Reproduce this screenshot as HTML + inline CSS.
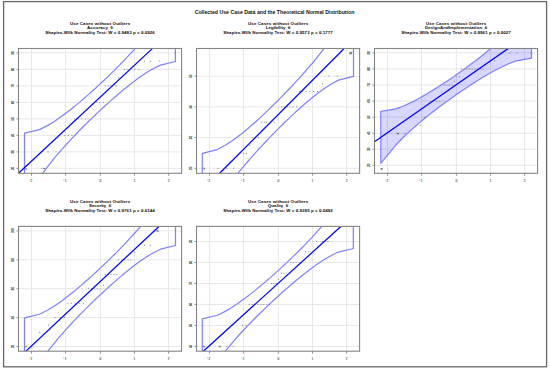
<!DOCTYPE html>
<html><head><meta charset="utf-8"><title>Collected Use Case Data and the Theoretical Normal Distribution</title>
<style>html,body{margin:0;padding:0;background:#fff;}body{width:550px;height:370px;overflow:hidden;font-family:"Liberation Sans",sans-serif;}svg{display:block}</style>
</head><body>
<svg width="550" height="370" viewBox="0 0 550 370" font-family="Liberation Sans, sans-serif"><rect x="3.6" y="1.6" width="543" height="365.2" fill="none" stroke="#686868" stroke-width="1.3"/>
<text x="274.5" y="13.6" text-anchor="middle" font-size="5.2" font-weight="bold" fill="#0a140a">Collected Use Case Data and the Theoretical Normal Distribution</text>
<g><text transform="translate(100.05,24.5) scale(1.0,1)" x="-30.05" y="0" textLength="60.1" lengthAdjust="spacing" font-size="4.4" font-weight="bold" fill="#111" stroke="#111" stroke-width="0.04">Use Cases without Outliers</text><text transform="translate(100.05,29.25) scale(1.0,1)" x="-13" y="0" textLength="26" lengthAdjust="spacing" font-size="4.4" font-weight="bold" fill="#111" stroke="#111" stroke-width="0.04">Accuracy_6</text><text transform="translate(100.05,33.6) scale(1.0,1)" x="-54.7" y="0" textLength="109.4" lengthAdjust="spacing" font-size="4.4" font-weight="bold" fill="#111" stroke="#111" stroke-width="0.04">Shapiro-Wilk Normality Test: W = 0.9483 p = 0.0926</text><clipPath id="c00"><rect x="18.5" y="48.5" width="163.1" height="124.8"/></clipPath><path d="M31.5 48.5V173.3M65.55 48.5V173.3M100.4 48.5V173.3M134.5 48.5V173.3M168.6 48.5V173.3M18.5 52.9H181.6M18.5 69.4H181.6M18.5 85.9H181.6M18.5 102.4H181.6M18.5 118.9H181.6M18.5 135.4H181.6M18.5 151.9H181.6M18.5 168.4H181.6" stroke="#e6e6e6" stroke-width="0.95" fill="none"/><polygon points="24.5,133.16 39.55,129.59 47.87,125.38 53.94,121.67 58.84,118.35 63.03,115.35 66.74,112.57 70.1,109.96 73.19,107.49 76.08,105.14 78.82,102.86 81.42,100.66 83.93,98.52 86.35,96.41 88.71,94.34 91.01,92.29 93.28,90.25 95.52,88.21 97.74,86.18 99.95,84.13 102.16,82.06 104.38,79.96 106.62,77.83 108.89,75.64 111.19,73.4 113.55,71.08 115.97,68.68 118.48,66.16 121.08,63.5 123.82,60.68 126.71,57.65 129.8,54.36 133.16,50.71 136.87,46.59 141.06,41.8 145.96,35.97 152.03,28.38 160.35,17.08 175.4,-7.36 175.4,61.54 160.35,65.12 152.03,69.32 145.96,73.04 141.06,76.35 136.87,79.36 133.16,82.14 129.8,84.74 126.71,87.21 123.82,89.57 121.08,91.84 118.48,94.04 115.97,96.19 113.55,98.29 111.19,100.36 108.89,102.41 106.62,104.45 104.38,106.49 102.16,108.52 99.95,110.57 97.74,112.64 95.52,114.74 93.28,116.87 91.01,119.06 88.71,121.3 86.35,123.62 83.93,126.02 81.42,128.54 78.82,131.2 76.08,134.02 73.19,137.05 70.1,140.34 66.74,143.99 63.03,148.11 58.84,152.91 53.94,158.73 47.87,166.32 39.55,177.62 24.5,202.06" fill="none" stroke="#8080ff" stroke-width="1.2" stroke-linejoin="round" clip-path="url(#c00)"/><rect x="25.5" y="168.3" width="1.4" height="1.4" fill="#6e6e6e" opacity="0.85"/><rect x="43.3" y="167.85" width="1.8" height="1.3" fill="#6e6e6e" opacity="0.85"/><path d="M24.3 168.4h1M41.2 168.4h1M43 168.4h1M47.5 151.9h1M55.5 151.9h1M64.4 135.4h1M68 135.4h1M71.5 135.4h1M74.2 118.9h1M77.8 118.9h1M81.3 118.9h1M84.9 118.9h1M87.5 118.9h1M96.4 102.4h1M99.2 102.4h1M103 102.4h1M104.9 85.9h1M107.7 85.9h1M110.5 85.9h1M113.4 85.9h1M115.7 85.9h1M118.1 77.6h1M123.8 69.4h1M126.6 69.4h1M134.2 69.4h1M138.4 69.4h1M144 61.1h1M149.9 61.1h1M158.8 61.1h1M174.8 52.9h1" stroke="#7a7a7a" stroke-width="0.9" fill="none" clip-path="url(#c00)"/><line x1="18.5" y1="173.2" x2="152.3" y2="48.6" stroke="#0000ff" stroke-width="1.25" clip-path="url(#c00)"/><rect x="18.5" y="48.5" width="163.1" height="124.8" fill="none" stroke="#858585" stroke-width="1.1"/><path d="M31.5 173.3v2.4M65.55 173.3v2.4M100.4 173.3v2.4M134.5 173.3v2.4M168.6 173.3v2.4M18.5 52.9h-2M18.5 69.4h-2M18.5 85.9h-2M18.5 102.4h-2M18.5 118.9h-2M18.5 135.4h-2M18.5 151.9h-2M18.5 168.4h-2" stroke="#858585" stroke-width="0.9" fill="none"/><text transform="translate(31.5,181.7) scale(0.75,1)" text-anchor="middle" font-size="4.2" fill="#4a4a4a" stroke="#4a4a4a" stroke-width="0.12">2</text><path d="M29 180.2h1.2" stroke="#8a8a8a" stroke-width="0.55"/><text transform="translate(65.55,181.7) scale(0.75,1)" text-anchor="middle" font-size="4.2" fill="#4a4a4a" stroke="#4a4a4a" stroke-width="0.12">1</text><path d="M63.05 180.2h1.2" stroke="#8a8a8a" stroke-width="0.55"/><text transform="translate(100.4,181.7) scale(0.75,1)" text-anchor="middle" font-size="4.2" fill="#4a4a4a" stroke="#4a4a4a" stroke-width="0.12">0</text><text transform="translate(134.5,181.7) scale(0.75,1)" text-anchor="middle" font-size="4.2" fill="#4a4a4a" stroke="#4a4a4a" stroke-width="0.12">1</text><text transform="translate(168.6,181.7) scale(0.75,1)" text-anchor="middle" font-size="4.2" fill="#4a4a4a" stroke="#4a4a4a" stroke-width="0.12">2</text><text transform="translate(13.9,52.9) rotate(-90)" text-anchor="middle" font-size="2.9" fill="#4a4a4a" stroke="#4a4a4a" stroke-width="0.15">90</text><text transform="translate(13.9,69.4) rotate(-90)" text-anchor="middle" font-size="2.9" fill="#4a4a4a" stroke="#4a4a4a" stroke-width="0.15">80</text><text transform="translate(13.9,85.9) rotate(-90)" text-anchor="middle" font-size="2.9" fill="#4a4a4a" stroke="#4a4a4a" stroke-width="0.15">70</text><text transform="translate(13.9,102.4) rotate(-90)" text-anchor="middle" font-size="2.9" fill="#4a4a4a" stroke="#4a4a4a" stroke-width="0.15">60</text><text transform="translate(13.9,118.9) rotate(-90)" text-anchor="middle" font-size="2.9" fill="#4a4a4a" stroke="#4a4a4a" stroke-width="0.15">50</text><text transform="translate(13.9,135.4) rotate(-90)" text-anchor="middle" font-size="2.9" fill="#4a4a4a" stroke="#4a4a4a" stroke-width="0.15">40</text><text transform="translate(13.9,151.9) rotate(-90)" text-anchor="middle" font-size="2.9" fill="#4a4a4a" stroke="#4a4a4a" stroke-width="0.15">30</text><text transform="translate(13.9,168.4) rotate(-90)" text-anchor="middle" font-size="2.9" fill="#4a4a4a" stroke="#4a4a4a" stroke-width="0.15">20</text></g>
<g><text transform="translate(278.05,24.5) scale(1.0,1)" x="-30.05" y="0" textLength="60.1" lengthAdjust="spacing" font-size="4.4" font-weight="bold" fill="#111" stroke="#111" stroke-width="0.04">Use Cases without Outliers</text><text transform="translate(278.05,29.25) scale(1.0,1)" x="-12.4" y="0" textLength="24.8" lengthAdjust="spacing" font-size="4.4" font-weight="bold" fill="#111" stroke="#111" stroke-width="0.04">Legibility_6</text><text transform="translate(278.05,33.6) scale(1.0,1)" x="-54.7" y="0" textLength="109.4" lengthAdjust="spacing" font-size="4.4" font-weight="bold" fill="#111" stroke="#111" stroke-width="0.04">Shapiro-Wilk Normality Test: W = 0.9573 p = 0.1777</text><clipPath id="c10"><rect x="196.5" y="48.5" width="163.1" height="124.8"/></clipPath><path d="M209.5 48.5V173.3M243.55 48.5V173.3M278.4 48.5V173.3M312.5 48.5V173.3M346.6 48.5V173.3M196.5 76.2H359.6M196.5 106.9H359.6M196.5 137.6H359.6M196.5 168.3H359.6" stroke="#e6e6e6" stroke-width="0.95" fill="none"/><polygon points="202.3,153.42 217.38,149.58 225.72,145.05 231.8,141.05 236.71,137.48 240.91,134.24 244.62,131.24 247.99,128.43 251.09,125.77 253.99,123.23 256.72,120.78 259.34,118.4 261.85,116.09 264.27,113.82 266.64,111.58 268.95,109.37 271.22,107.17 273.46,104.98 275.69,102.78 277.9,100.57 280.11,98.34 282.34,96.08 284.58,93.78 286.85,91.42 289.16,89 291.53,86.5 293.95,83.9 296.46,81.19 299.08,78.33 301.81,75.28 304.71,72.01 307.81,68.46 311.18,64.52 314.89,60.08 319.09,54.91 324,48.62 330.08,40.43 338.42,28.24 353.5,1.85 353.5,76.3 338.42,80.14 330.08,84.67 324,88.67 319.09,92.24 314.89,95.48 311.18,98.48 307.81,101.29 304.71,103.95 301.81,106.49 299.08,108.94 296.46,111.31 293.95,113.63 291.53,115.9 289.16,118.14 286.85,120.35 284.58,122.55 282.34,124.74 280.11,126.94 277.9,129.15 275.69,131.38 273.46,133.64 271.22,135.94 268.95,138.3 266.64,140.72 264.27,143.22 261.85,145.81 259.34,148.53 256.72,151.39 253.99,154.44 251.09,157.7 247.99,161.26 244.62,165.2 240.91,169.64 236.71,174.81 231.8,181.1 225.72,189.29 217.38,201.48 202.3,227.87" fill="none" stroke="#8080ff" stroke-width="1.2" stroke-linejoin="round" clip-path="url(#c10)"/><rect x="203.7" y="167.8" width="1.4" height="1.6" fill="#6e6e6e" opacity="0.85"/><rect x="349.3" y="52" width="2.6" height="2.4" fill="#6e6e6e" opacity="0.85"/><path d="M203.5 168.3h1M217.5 168.3h1M226.4 168.3h1M233.1 168.3h1M239.2 153.3h1M243.3 153.3h1M246 153.3h1M249.5 145.3h1M252.2 137.6h1M254.9 137.6h1M258.1 137.6h1M261.1 122.3h1M263.8 122.3h1M265.9 122.3h1M270 122.3h1M273.6 122.3h1M281 106.9h1M283.8 106.9h1M286.7 106.9h1M289.5 106.9h1M292.3 106.9h1M296.1 106.9h1M299 91.5h1M301.8 91.5h1M305.6 91.5h1M309.4 91.5h1M313.1 91.5h1M316.9 91.5h1M322 83.8h1M328.3 76.2h1M336.8 76.2h1M351.5 52h1" stroke="#7a7a7a" stroke-width="0.9" fill="none" clip-path="url(#c10)"/><line x1="219.4" y1="173.5" x2="343.9" y2="48.7" stroke="#0000ff" stroke-width="1.25" clip-path="url(#c10)"/><rect x="196.5" y="48.5" width="163.1" height="124.8" fill="none" stroke="#858585" stroke-width="1.1"/><path d="M209.5 173.3v2.4M243.55 173.3v2.4M278.4 173.3v2.4M312.5 173.3v2.4M346.6 173.3v2.4M196.5 76.2h-2M196.5 106.9h-2M196.5 137.6h-2M196.5 168.3h-2" stroke="#858585" stroke-width="0.9" fill="none"/><text transform="translate(209.5,181.7) scale(0.75,1)" text-anchor="middle" font-size="4.2" fill="#4a4a4a" stroke="#4a4a4a" stroke-width="0.12">2</text><path d="M207 180.2h1.2" stroke="#8a8a8a" stroke-width="0.55"/><text transform="translate(243.55,181.7) scale(0.75,1)" text-anchor="middle" font-size="4.2" fill="#4a4a4a" stroke="#4a4a4a" stroke-width="0.12">1</text><path d="M241.05 180.2h1.2" stroke="#8a8a8a" stroke-width="0.55"/><text transform="translate(278.4,181.7) scale(0.75,1)" text-anchor="middle" font-size="4.2" fill="#4a4a4a" stroke="#4a4a4a" stroke-width="0.12">0</text><text transform="translate(312.5,181.7) scale(0.75,1)" text-anchor="middle" font-size="4.2" fill="#4a4a4a" stroke="#4a4a4a" stroke-width="0.12">1</text><text transform="translate(346.6,181.7) scale(0.75,1)" text-anchor="middle" font-size="4.2" fill="#4a4a4a" stroke="#4a4a4a" stroke-width="0.12">2</text><text transform="translate(191.9,76.2) rotate(-90)" text-anchor="middle" font-size="2.9" fill="#4a4a4a" stroke="#4a4a4a" stroke-width="0.15">50</text><text transform="translate(191.9,106.9) rotate(-90)" text-anchor="middle" font-size="2.9" fill="#4a4a4a" stroke="#4a4a4a" stroke-width="0.15">40</text><text transform="translate(191.9,137.6) rotate(-90)" text-anchor="middle" font-size="2.9" fill="#4a4a4a" stroke="#4a4a4a" stroke-width="0.15">30</text><text transform="translate(191.9,168.3) rotate(-90)" text-anchor="middle" font-size="2.9" fill="#4a4a4a" stroke="#4a4a4a" stroke-width="0.15">20</text></g>
<g><text transform="translate(456.05,24.5) scale(1.0,1)" x="-30.05" y="0" textLength="60.1" lengthAdjust="spacing" font-size="4.4" font-weight="bold" fill="#111" stroke="#111" stroke-width="0.04">Use Cases without Outliers</text><text transform="translate(456.05,29.25) scale(1.0,1)" x="-31.05" y="0" textLength="62.1" lengthAdjust="spacing" font-size="4.4" font-weight="bold" fill="#111" stroke="#111" stroke-width="0.04">DesignAndImplementation_6</text><text transform="translate(456.05,33.6) scale(1.0,1)" x="-54.7" y="0" textLength="109.4" lengthAdjust="spacing" font-size="4.4" font-weight="bold" fill="#111" stroke="#111" stroke-width="0.04">Shapiro-Wilk Normality Test: W = 0.8961 p = 0.0027</text><clipPath id="c20"><rect x="374.5" y="48.5" width="163.1" height="124.8"/></clipPath><path d="M387.5 48.5V173.3M421.55 48.5V173.3M456.4 48.5V173.3M490.5 48.5V173.3M524.6 48.5V173.3M374.5 52.9H537.6M374.5 68.96H537.6M374.5 85.02H537.6M374.5 101.08H537.6M374.5 117.14H537.6M374.5 133.2H537.6M374.5 149.26H537.6M374.5 165.32H537.6" stroke="#e6e6e6" stroke-width="0.95" fill="none"/><polygon points="380.8,111.44 395.83,108.82 404.14,105.69 410.2,102.92 415.1,100.44 419.28,98.2 422.98,96.12 426.34,94.17 429.43,92.33 432.31,90.56 435.04,88.87 437.65,87.22 440.15,85.61 442.57,84.04 444.92,82.49 447.23,80.95 449.49,79.43 451.73,77.9 453.94,76.38 456.15,74.85 458.36,73.3 460.57,71.73 462.81,70.13 465.07,68.49 467.38,66.81 469.73,65.08 472.15,63.28 474.65,61.39 477.26,59.4 479.99,57.29 482.87,55.02 485.96,52.55 489.32,49.82 493.02,46.73 497.2,43.14 502.1,38.77 508.16,33.08 516.47,24.61 531.5,6.26 531.5,58.18 516.47,60.8 508.16,63.93 502.1,66.7 497.2,69.17 493.02,71.42 489.32,73.5 485.96,75.45 482.87,77.29 479.99,79.05 477.26,80.75 474.65,82.4 472.15,84.01 469.73,85.58 467.38,87.13 465.07,88.67 462.81,90.19 460.57,91.72 458.36,93.24 456.15,94.77 453.94,96.32 451.73,97.89 449.49,99.49 447.23,101.12 444.92,102.8 442.57,104.54 440.15,106.34 437.65,108.23 435.04,110.22 432.31,112.33 429.43,114.6 426.34,117.07 422.98,119.8 419.28,122.89 415.1,126.48 410.2,130.85 404.14,136.54 395.83,145.01 380.8,163.36" fill="#0000ff" fill-opacity="0.155" stroke="none" clip-path="url(#c20)"/><polygon points="380.8,111.44 395.83,108.82 404.14,105.69 410.2,102.92 415.1,100.44 419.28,98.2 422.98,96.12 426.34,94.17 429.43,92.33 432.31,90.56 435.04,88.87 437.65,87.22 440.15,85.61 442.57,84.04 444.92,82.49 447.23,80.95 449.49,79.43 451.73,77.9 453.94,76.38 456.15,74.85 458.36,73.3 460.57,71.73 462.81,70.13 465.07,68.49 467.38,66.81 469.73,65.08 472.15,63.28 474.65,61.39 477.26,59.4 479.99,57.29 482.87,55.02 485.96,52.55 489.32,49.82 493.02,46.73 497.2,43.14 502.1,38.77 508.16,33.08 516.47,24.61 531.5,6.26 531.5,58.18 516.47,60.8 508.16,63.93 502.1,66.7 497.2,69.17 493.02,71.42 489.32,73.5 485.96,75.45 482.87,77.29 479.99,79.05 477.26,80.75 474.65,82.4 472.15,84.01 469.73,85.58 467.38,87.13 465.07,88.67 462.81,90.19 460.57,91.72 458.36,93.24 456.15,94.77 453.94,96.32 451.73,97.89 449.49,99.49 447.23,101.12 444.92,102.8 442.57,104.54 440.15,106.34 437.65,108.23 435.04,110.22 432.31,112.33 429.43,114.6 426.34,117.07 422.98,119.8 419.28,122.89 415.1,126.48 410.2,130.85 404.14,136.54 395.83,145.01 380.8,163.36" fill="none" stroke="#8080ff" stroke-width="1.2" stroke-linejoin="round" clip-path="url(#c20)"/><rect x="380.6" y="168.15" width="2.4" height="1.5" fill="#6e6e6e" opacity="0.85"/><rect x="396.7" y="132.85" width="2.4" height="1.5" fill="#6e6e6e" opacity="0.85"/><path d="M380.8 168.8h1M397.2 133.4h1M404.4 133.4h1M410.6 133.4h1M419.8 125.5h1M423.9 117.5h1M424.9 117.5h1M430 101.6h1M436.2 101.6h1M439.3 101.6h1M441.3 92.2h1M444 85.1h1M446.5 85.1h1M448.9 85.1h1M451.6 85.1h1M453.7 81.3h1M455.7 76.8h1M458.8 76.8h1M460.9 69h1M463.6 69h1M466.3 69h1M469 69h1M471.7 69h1M474.4 69h1M477.1 69h1M479.8 69h1M482.5 69h1M494.2 60.7h1M509.5 53h1M516.5 53h1M530.5 53h1" stroke="#7a7a7a" stroke-width="0.9" fill="none" clip-path="url(#c20)"/><line x1="374.5" y1="141.8" x2="508.6" y2="48.2" stroke="#0000ff" stroke-width="1.25" clip-path="url(#c20)"/><rect x="374.5" y="48.5" width="163.1" height="124.8" fill="none" stroke="#858585" stroke-width="1.1"/><path d="M387.5 173.3v2.4M421.55 173.3v2.4M456.4 173.3v2.4M490.5 173.3v2.4M524.6 173.3v2.4M374.5 52.9h-2M374.5 68.96h-2M374.5 85.02h-2M374.5 101.08h-2M374.5 117.14h-2M374.5 133.2h-2M374.5 149.26h-2M374.5 165.32h-2" stroke="#858585" stroke-width="0.9" fill="none"/><text transform="translate(387.5,181.7) scale(0.75,1)" text-anchor="middle" font-size="4.2" fill="#4a4a4a" stroke="#4a4a4a" stroke-width="0.12">2</text><path d="M385 180.2h1.2" stroke="#8a8a8a" stroke-width="0.55"/><text transform="translate(421.55,181.7) scale(0.75,1)" text-anchor="middle" font-size="4.2" fill="#4a4a4a" stroke="#4a4a4a" stroke-width="0.12">1</text><path d="M419.05 180.2h1.2" stroke="#8a8a8a" stroke-width="0.55"/><text transform="translate(456.4,181.7) scale(0.75,1)" text-anchor="middle" font-size="4.2" fill="#4a4a4a" stroke="#4a4a4a" stroke-width="0.12">0</text><text transform="translate(490.5,181.7) scale(0.75,1)" text-anchor="middle" font-size="4.2" fill="#4a4a4a" stroke="#4a4a4a" stroke-width="0.12">1</text><text transform="translate(524.6,181.7) scale(0.75,1)" text-anchor="middle" font-size="4.2" fill="#4a4a4a" stroke="#4a4a4a" stroke-width="0.12">2</text><text transform="translate(369.9,52.9) rotate(-90)" text-anchor="middle" font-size="2.9" fill="#4a4a4a" stroke="#4a4a4a" stroke-width="0.15">90</text><text transform="translate(369.9,68.96) rotate(-90)" text-anchor="middle" font-size="2.9" fill="#4a4a4a" stroke="#4a4a4a" stroke-width="0.15">80</text><text transform="translate(369.9,85.02) rotate(-90)" text-anchor="middle" font-size="2.9" fill="#4a4a4a" stroke="#4a4a4a" stroke-width="0.15">70</text><text transform="translate(369.9,101.08) rotate(-90)" text-anchor="middle" font-size="2.9" fill="#4a4a4a" stroke="#4a4a4a" stroke-width="0.15">60</text><text transform="translate(369.9,117.14) rotate(-90)" text-anchor="middle" font-size="2.9" fill="#4a4a4a" stroke="#4a4a4a" stroke-width="0.15">50</text><text transform="translate(369.9,133.2) rotate(-90)" text-anchor="middle" font-size="2.9" fill="#4a4a4a" stroke="#4a4a4a" stroke-width="0.15">40</text><text transform="translate(369.9,149.26) rotate(-90)" text-anchor="middle" font-size="2.9" fill="#4a4a4a" stroke="#4a4a4a" stroke-width="0.15">30</text><text transform="translate(369.9,165.32) rotate(-90)" text-anchor="middle" font-size="2.9" fill="#4a4a4a" stroke="#4a4a4a" stroke-width="0.15">20</text></g>
<g><text transform="translate(100.05,202.5) scale(1.0,1)" x="-30.05" y="0" textLength="60.1" lengthAdjust="spacing" font-size="4.4" font-weight="bold" fill="#111" stroke="#111" stroke-width="0.04">Use Cases without Outliers</text><text transform="translate(100.05,207.25) scale(1.0,1)" x="-11.1" y="0" textLength="22.2" lengthAdjust="spacing" font-size="4.4" font-weight="bold" fill="#111" stroke="#111" stroke-width="0.04">Security_6</text><text transform="translate(100.05,211.6) scale(1.0,1)" x="-54.7" y="0" textLength="109.4" lengthAdjust="spacing" font-size="4.4" font-weight="bold" fill="#111" stroke="#111" stroke-width="0.04">Shapiro-Wilk Normality Test: W = 0.9761 p = 0.6144</text><clipPath id="c01"><rect x="18.5" y="226.4" width="163.1" height="124.8"/></clipPath><path d="M31.5 226.4V351.2M65.55 226.4V351.2M100.4 226.4V351.2M134.5 226.4V351.2M168.6 226.4V351.2M18.5 230.9H181.6M18.5 259.8H181.6M18.5 288.7H181.6M18.5 317.6H181.6M18.5 346.5H181.6" stroke="#e6e6e6" stroke-width="0.95" fill="none"/><polygon points="24.5,317.9 39.56,314.27 47.89,310.02 53.96,306.27 58.87,302.93 63.06,299.9 66.77,297.09 70.13,294.47 73.22,291.98 76.12,289.6 78.85,287.31 81.46,285.09 83.97,282.93 86.39,280.81 88.75,278.72 91.06,276.65 93.33,274.6 95.57,272.55 97.79,270.49 100,268.43 102.21,266.35 104.43,264.23 106.67,262.08 108.94,259.88 111.25,257.62 113.61,255.29 116.03,252.86 118.54,250.32 121.15,247.65 123.88,244.81 126.78,241.76 129.87,238.44 133.23,234.76 136.94,230.61 141.13,225.79 146.04,219.92 152.11,212.28 160.44,200.91 175.5,176.3 175.5,245.53 160.44,249.16 152.11,253.41 146.04,257.16 141.13,260.5 136.94,263.53 133.23,266.34 129.87,268.96 126.78,271.45 123.88,273.83 121.15,276.12 118.54,278.34 116.03,280.5 113.61,282.62 111.25,284.71 108.94,286.78 106.67,288.83 104.43,290.88 102.21,292.94 100,295 97.79,297.08 95.57,299.2 93.33,301.35 91.06,303.55 88.75,305.81 86.39,308.14 83.97,310.57 81.46,313.11 78.85,315.78 76.12,318.62 73.22,321.67 70.13,324.99 66.77,328.67 63.06,332.82 58.87,337.64 53.96,343.51 47.89,351.15 39.56,362.52 24.5,387.13" fill="none" stroke="#8080ff" stroke-width="1.2" stroke-linejoin="round" clip-path="url(#c01)"/><rect x="25.35" y="345.85" width="1.5" height="1.5" fill="#6e6e6e" opacity="0.85"/><rect x="156.6" y="230.3" width="2" height="1.6" fill="#6e6e6e" opacity="0.85"/><path d="M24 346.4h1M39.1 332.3h1M48.1 325.1h1M54.6 317.5h1M59.9 317.5h1M64 317.5h1M67.4 303.3h1M70.8 303.3h1M74.6 303.3h1M78.8 303.3h1M82.9 303.3h1M88.2 288.8h1M91.1 288.8h1M93.9 288.8h1M96.7 288.8h1M99.6 288.8h1M103 285.4h1M104.9 274.4h1M107.7 274.4h1M110.6 274.4h1M113.4 274.4h1M115.7 274.4h1M118.1 259.9h1M121 259.9h1M123.8 259.9h1M127.6 259.9h1M130.4 259.9h1M134.2 252.3h1M144 245.3h1M149.7 245.3h1M156.9 230.9h1M174.8 230.9h1" stroke="#7a7a7a" stroke-width="0.9" fill="none" clip-path="url(#c01)"/><line x1="25.4" y1="351.67" x2="158.7" y2="226.67" stroke="#0000ff" stroke-width="1.25" clip-path="url(#c01)"/><rect x="18.5" y="226.4" width="163.1" height="124.8" fill="none" stroke="#858585" stroke-width="1.1"/><path d="M31.5 351.2v2.4M65.55 351.2v2.4M100.4 351.2v2.4M134.5 351.2v2.4M168.6 351.2v2.4M18.5 230.9h-2M18.5 259.8h-2M18.5 288.7h-2M18.5 317.6h-2M18.5 346.5h-2" stroke="#858585" stroke-width="0.9" fill="none"/><text transform="translate(31.5,359.6) scale(0.75,1)" text-anchor="middle" font-size="4.2" fill="#4a4a4a" stroke="#4a4a4a" stroke-width="0.12">2</text><path d="M29 358.1h1.2" stroke="#8a8a8a" stroke-width="0.55"/><text transform="translate(65.55,359.6) scale(0.75,1)" text-anchor="middle" font-size="4.2" fill="#4a4a4a" stroke="#4a4a4a" stroke-width="0.12">1</text><path d="M63.05 358.1h1.2" stroke="#8a8a8a" stroke-width="0.55"/><text transform="translate(100.4,359.6) scale(0.75,1)" text-anchor="middle" font-size="4.2" fill="#4a4a4a" stroke="#4a4a4a" stroke-width="0.12">0</text><text transform="translate(134.5,359.6) scale(0.75,1)" text-anchor="middle" font-size="4.2" fill="#4a4a4a" stroke="#4a4a4a" stroke-width="0.12">1</text><text transform="translate(168.6,359.6) scale(0.75,1)" text-anchor="middle" font-size="4.2" fill="#4a4a4a" stroke="#4a4a4a" stroke-width="0.12">2</text><text transform="translate(13.9,230.9) rotate(-90)" text-anchor="middle" font-size="2.9" fill="#4a4a4a" stroke="#4a4a4a" stroke-width="0.15">100</text><text transform="translate(13.9,259.8) rotate(-90)" text-anchor="middle" font-size="2.9" fill="#4a4a4a" stroke="#4a4a4a" stroke-width="0.15">80</text><text transform="translate(13.9,288.7) rotate(-90)" text-anchor="middle" font-size="2.9" fill="#4a4a4a" stroke="#4a4a4a" stroke-width="0.15">60</text><text transform="translate(13.9,317.6) rotate(-90)" text-anchor="middle" font-size="2.9" fill="#4a4a4a" stroke="#4a4a4a" stroke-width="0.15">40</text><text transform="translate(13.9,346.5) rotate(-90)" text-anchor="middle" font-size="2.9" fill="#4a4a4a" stroke="#4a4a4a" stroke-width="0.15">20</text></g>
<g><text transform="translate(278.05,202.5) scale(1.0,1)" x="-30.05" y="0" textLength="60.1" lengthAdjust="spacing" font-size="4.4" font-weight="bold" fill="#111" stroke="#111" stroke-width="0.04">Use Cases without Outliers</text><text transform="translate(278.05,207.25) scale(1.0,1)" x="-10.2" y="0" textLength="20.4" lengthAdjust="spacing" font-size="4.4" font-weight="bold" fill="#111" stroke="#111" stroke-width="0.04">Quality_6</text><text transform="translate(278.05,211.6) scale(1.0,1)" x="-54.7" y="0" textLength="109.4" lengthAdjust="spacing" font-size="4.4" font-weight="bold" fill="#111" stroke="#111" stroke-width="0.04">Shapiro-Wilk Normality Test: W = 0.9395 p = 0.0492</text><clipPath id="c11"><rect x="196.5" y="226.4" width="163.1" height="124.8"/></clipPath><path d="M209.5 226.4V351.2M243.55 226.4V351.2M278.4 226.4V351.2M312.5 226.4V351.2M346.6 226.4V351.2M196.5 241.5H359.6M196.5 262.48H359.6M196.5 283.46H359.6M196.5 304.44H359.6M196.5 325.42H359.6M196.5 346.4H359.6" stroke="#e6e6e6" stroke-width="0.95" fill="none"/><polygon points="202.3,318.82 217.36,315.25 225.69,311.13 231.76,307.49 236.67,304.26 240.86,301.32 244.57,298.6 247.93,296.06 251.02,293.65 253.92,291.35 256.65,289.14 259.26,286.99 261.77,284.9 264.19,282.85 266.55,280.83 268.86,278.83 271.13,276.84 273.37,274.86 275.59,272.87 277.8,270.87 280.01,268.86 282.23,266.82 284.47,264.74 286.74,262.61 289.05,260.42 291.41,258.17 293.83,255.82 296.34,253.37 298.95,250.79 301.68,248.04 304.58,245.09 307.67,241.88 311.03,238.33 314.74,234.32 318.93,229.65 323.84,223.99 329.91,216.61 338.24,205.63 353.3,181.88 353.3,248.5 338.24,252.06 329.91,256.19 323.84,259.82 318.93,263.06 314.74,266 311.03,268.71 307.67,271.26 304.58,273.66 301.68,275.96 298.95,278.18 296.34,280.32 293.83,282.42 291.41,284.47 289.05,286.49 286.74,288.49 284.47,290.48 282.23,292.46 280.01,294.45 277.8,296.44 275.59,298.46 273.37,300.5 271.13,302.58 268.86,304.71 266.55,306.89 264.19,309.15 261.77,311.5 259.26,313.95 256.65,316.53 253.92,319.28 251.02,322.23 247.93,325.44 244.57,328.99 240.86,333 236.67,337.66 231.76,343.33 225.69,350.71 217.36,361.69 202.3,385.43" fill="none" stroke="#8080ff" stroke-width="1.2" stroke-linejoin="round" clip-path="url(#c11)"/><rect x="203.2" y="345.85" width="2" height="1.5" fill="#6e6e6e" opacity="0.85"/><rect x="218.8" y="345.85" width="2" height="1.5" fill="#6e6e6e" opacity="0.85"/><path d="M202.9 346.4h1M219 346.4h1M226.1 346.4h1M232.6 346.4h1M242 325.3h1M245.4 325.3h1M248.8 304.5h1M251.7 304.5h1M254.6 304.5h1M257.5 304.5h1M260.4 304.5h1M263.3 304.5h1M266.2 304.5h1M269.1 304.5h1M271 283.5h1M273.4 283.5h1M275.7 283.5h1M277.9 279.3h1M281 273.1h1M283.5 273.1h1M285.7 273.1h1M290.5 262.3h1M292.9 262.3h1M295.6 262.3h1M298.6 262.3h1M305 251.7h1M308.4 251.7h1M316 241.5h1M322 241.5h1M327.7 241.5h1M352.8 230.6h1" stroke="#7a7a7a" stroke-width="0.9" fill="none" clip-path="url(#c11)"/><line x1="203.32" y1="351.2" x2="340.83" y2="226.5" stroke="#0000ff" stroke-width="1.25" clip-path="url(#c11)"/><rect x="196.5" y="226.4" width="163.1" height="124.8" fill="none" stroke="#858585" stroke-width="1.1"/><path d="M209.5 351.2v2.4M243.55 351.2v2.4M278.4 351.2v2.4M312.5 351.2v2.4M346.6 351.2v2.4M196.5 241.5h-2M196.5 262.48h-2M196.5 283.46h-2M196.5 304.44h-2M196.5 325.42h-2M196.5 346.4h-2" stroke="#858585" stroke-width="0.9" fill="none"/><text transform="translate(209.5,359.6) scale(0.75,1)" text-anchor="middle" font-size="4.2" fill="#4a4a4a" stroke="#4a4a4a" stroke-width="0.12">2</text><path d="M207 358.1h1.2" stroke="#8a8a8a" stroke-width="0.55"/><text transform="translate(243.55,359.6) scale(0.75,1)" text-anchor="middle" font-size="4.2" fill="#4a4a4a" stroke="#4a4a4a" stroke-width="0.12">1</text><path d="M241.05 358.1h1.2" stroke="#8a8a8a" stroke-width="0.55"/><text transform="translate(278.4,359.6) scale(0.75,1)" text-anchor="middle" font-size="4.2" fill="#4a4a4a" stroke="#4a4a4a" stroke-width="0.12">0</text><text transform="translate(312.5,359.6) scale(0.75,1)" text-anchor="middle" font-size="4.2" fill="#4a4a4a" stroke="#4a4a4a" stroke-width="0.12">1</text><text transform="translate(346.6,359.6) scale(0.75,1)" text-anchor="middle" font-size="4.2" fill="#4a4a4a" stroke="#4a4a4a" stroke-width="0.12">2</text><text transform="translate(191.9,241.5) rotate(-90)" text-anchor="middle" font-size="2.9" fill="#4a4a4a" stroke="#4a4a4a" stroke-width="0.15">90</text><text transform="translate(191.9,262.48) rotate(-90)" text-anchor="middle" font-size="2.9" fill="#4a4a4a" stroke="#4a4a4a" stroke-width="0.15">80</text><text transform="translate(191.9,283.46) rotate(-90)" text-anchor="middle" font-size="2.9" fill="#4a4a4a" stroke="#4a4a4a" stroke-width="0.15">70</text><text transform="translate(191.9,304.44) rotate(-90)" text-anchor="middle" font-size="2.9" fill="#4a4a4a" stroke="#4a4a4a" stroke-width="0.15">60</text><text transform="translate(191.9,325.42) rotate(-90)" text-anchor="middle" font-size="2.9" fill="#4a4a4a" stroke="#4a4a4a" stroke-width="0.15">50</text><text transform="translate(191.9,346.4) rotate(-90)" text-anchor="middle" font-size="2.9" fill="#4a4a4a" stroke="#4a4a4a" stroke-width="0.15">40</text></g></svg>
</body></html>
